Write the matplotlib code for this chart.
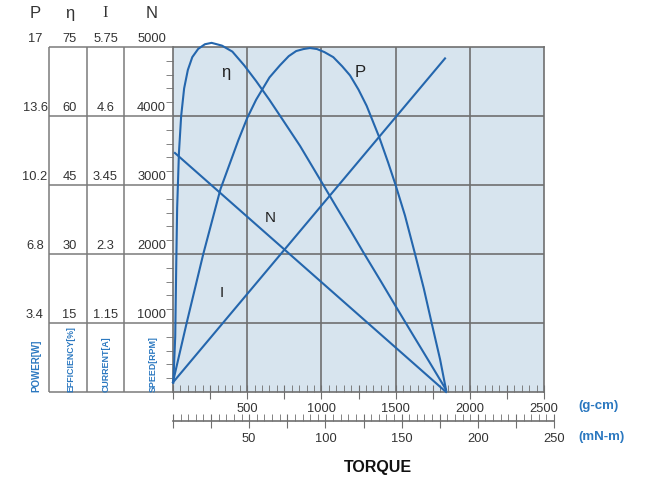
import matplotlib.pyplot as plt
from matplotlib.ticker import MultipleLocator, FuncFormatter

# --- curve data, torque in g-cm ---
# speed N (rpm)
speed_torque = [13, 1840]
speed_rpm = [3464, 0]

# current I (A)
current_torque = [0, 1833]
current_amp = [0.16, 5.56]

# output power P (W)
power_torque = [0, 92, 204, 320, 440, 500, 560, 650, 721, 780, 830, 880, 923,
                970, 1020, 1080, 1140, 1193, 1250, 1305, 1390, 1450, 1500,
                1563, 1631, 1690, 1743, 1800, 1840]
power_watt = [0.5, 3.4, 6.8, 10.0, 12.4, 13.5, 14.4, 15.5, 16.1, 16.55, 16.8,
              16.9, 16.95, 16.9, 16.75, 16.5, 16.05, 15.6, 14.9, 14.1, 12.55,
              11.3, 10.2, 8.7, 6.8, 5.1, 3.4, 1.6, 0.1]

# efficiency (%)
eff_torque = [2, 15, 22, 28, 40, 55, 75, 100, 130, 170, 215, 260, 330, 400,
              480, 560, 650, 743, 856, 1002, 1103, 1200, 1282, 1400, 1507,
              1619, 1730, 1838]
eff_pct = [2.0, 12.0, 28.0, 40.0, 52.0, 60.0, 66.0, 70.0, 72.8, 74.6, 75.6,
           75.9, 75.3, 74.0, 71.0, 67.6, 63.5, 59.0, 53.5, 45.6, 40.1, 34.9,
           30.4, 24.1, 18.3, 12.3, 6.4, 0.6]

# left scale table, one row per grid line
speed_levels = [1000, 2000, 3000, 4000, 5000]
power_labels = ['3.4', '6.8', '10.2', '13.6', '17']
eff_labels = ['15', '30', '45', '60', '75']
current_labels = ['1.15', '2.3', '3.45', '4.6', '5.75']
speed_labels = ['1000', '2000', '3000', '4000', '5000']

plt.rcParams['font.family'] = ['Liberation Sans', 'DejaVu Sans']

W, H = 653, 481
CURVE = '#2466ad'
GRID = '#6f6f6f'
BLUE = '#2b78c0'
TXT = '#333333'

fig = plt.figure(figsize=(W / 100, H / 100), dpi=100)

# main plot, left scale is speed
ax = fig.add_axes([173 / W, 1 - 393 / H, 371 / W, 345 / H])
ax.set_xlim(0, 2500)
ax.set_ylim(0, 5000)
ax.set_facecolor('#d7e4ee')
for s in ax.spines.values():
    s.set_color(GRID)
    s.set_linewidth(1.2)
for v in [500, 1000, 1500, 2000]:
    ax.axvline(v, color=GRID, lw=1.2, zorder=1)
for v in [1000, 2000, 3000, 4000]:
    ax.axhline(v, color=GRID, lw=1.2, zorder=1)

ax.xaxis.set_major_locator(MultipleLocator(250))
ax.xaxis.set_minor_locator(MultipleLocator(50))
ax.xaxis.set_major_formatter(FuncFormatter(
    lambda v, p: f'{int(v)}' if v > 0 and v % 500 == 0 else ''))
ax.tick_params(axis='x', which='major', direction='inout', length=10,
               color=GRID, pad=2, labelsize=9.3, labelcolor=TXT)
ax.tick_params(axis='x', which='minor', direction='in', length=5, color=GRID)
ax.yaxis.set_major_locator(MultipleLocator(1000))
ax.yaxis.set_minor_locator(MultipleLocator(200))
ax.tick_params(axis='y', which='major', length=0, labelleft=False)
ax.tick_params(axis='y', which='minor', direction='out', length=5, color=GRID)

ax.plot(speed_torque, speed_rpm, color=CURVE, lw=1.5, clip_on=False, zorder=3)

ax_i = ax.twinx()
ax_i.set_ylim(0, 5.75)
ax_i.axis('off')
ax_i.plot(current_torque, current_amp, color=CURVE, lw=1.5, clip_on=False)

ax_p = ax.twinx()
ax_p.set_ylim(0, 17)
ax_p.axis('off')
ax_p.plot(power_torque, power_watt, color=CURVE, lw=1.5, clip_on=False)

ax_e = ax.twinx()
ax_e.set_ylim(0, 75)
ax_e.axis('off')
ax_e.plot(eff_torque, eff_pct, color=CURVE, lw=1.5, clip_on=False)

# curve names
ax.text(357, 4638, 'η', fontsize=12, color='#222222', ha='center', va='center')
ax.text(1260, 4652, 'P', fontsize=12, color='#222222', ha='center', va='center')
ax.text(654, 2536, 'N', fontsize=11, color='#222222', ha='center', va='center')
ax.text(330, 1449, 'I', fontsize=11, color='#222222', ha='center', va='center')

# second torque scale in mN-m
axm = fig.add_axes([173 / W, 1 - 421.7 / H, 381 / W, 10 / H])
axm.set_xlim(0, 250)
axm.patch.set_visible(False)
for k in ['top', 'left', 'right']:
    axm.spines[k].set_visible(False)
axm.spines['bottom'].set_color(GRID)
axm.spines['bottom'].set_linewidth(1.2)
axm.set_yticks([])
axm.xaxis.set_major_locator(MultipleLocator(25))
axm.xaxis.set_minor_locator(MultipleLocator(5))
axm.xaxis.set_major_formatter(FuncFormatter(
    lambda v, p: f'{int(v)}' if v > 0 and v % 50 == 0 else ''))
axm.tick_params(axis='x', which='major', direction='inout', length=10,
                color=GRID, pad=3, labelsize=9.3, labelcolor=TXT)
axm.tick_params(axis='x', which='minor', direction='in', length=5, color=GRID)

# table of scales on the left
axt = fig.add_axes([0, 1 - 393 / H, 173 / W, 345 / H])
axt.set_xlim(0, 173)
axt.set_ylim(0, 5000)
axt.axis('off')
axt.hlines([0] + speed_levels, 49, 173, color='#7a7a7a', lw=1.1, clip_on=False)
axt.vlines([49, 87, 124], 0, 5000, color='#7a7a7a', lw=1.1, clip_on=False)
for lvl, p, e, c, s in zip(speed_levels, power_labels, eff_labels,
                           current_labels, speed_labels):
    y = lvl + 130
    axt.text(35, y, p, ha='center', va='center', fontsize=9.3, color=TXT)
    axt.text(69.5, y, e, ha='center', va='center', fontsize=9.3, color=TXT)
    axt.text(105.5, y, c, ha='center', va='center', fontsize=9.3, color=TXT)
    axt.text(166, y, s, ha='right', va='center', fontsize=9.3, color=TXT)

for x, h in [(35, 'P'), (69.5, 'η'), (152, 'N')]:
    axt.text(x, 5507, h, ha='center', va='center', fontsize=12, color=TXT)
axt.text(105.5, 5507, 'I', ha='center', va='center', fontsize=12, color=TXT,
         family=['Liberation Serif', 'DejaVu Serif'])

for x, lab, fs in [(36.7, 'POWER[W]', 7.0), (70.7, 'EFFICIENCY[%]', 6.3),
                   (106, 'CURRENT[A]', 6.4), (153.3, 'SPEED[RPM]', 6.4)]:
    axt.text(x, 15, lab, rotation=90, ha='center', va='bottom', fontsize=fs,
             color=BLUE, weight='bold')

fig.text(578 / W, 1 - 406 / H, '(g-cm)', ha='left', va='center',
         fontsize=9.5, weight='bold', color=BLUE)
fig.text(578 / W, 1 - 437 / H, '(mN-m)', ha='left', va='center',
         fontsize=9.5, weight='bold', color=BLUE)
fig.text(378 / W, 1 - 468 / H, 'TORQUE', ha='center', va='center',
         fontsize=11.5, weight='bold', color='#111111')

fig.savefig('out.png', dpi=100)
